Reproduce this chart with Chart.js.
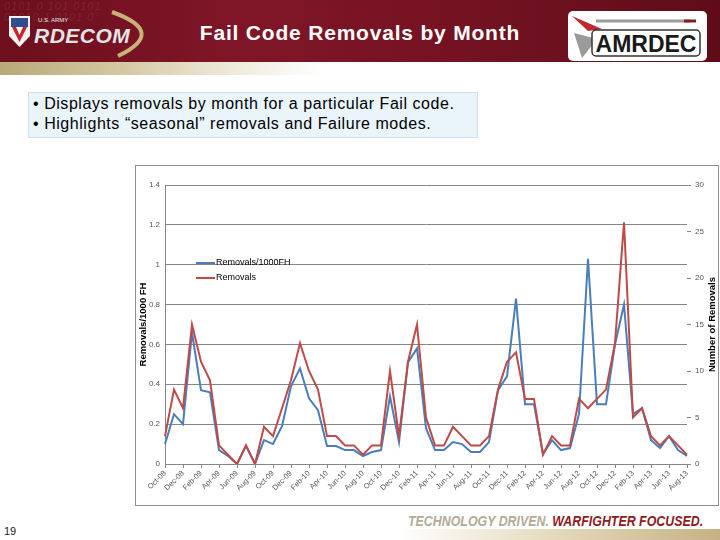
<!DOCTYPE html>
<html>
<head>
<meta charset="utf-8">
<script src="https://cdn.jsdelivr.net/npm/chart.js@4.4.1/dist/chart.umd.min.js"></script>
<style>
  html, body { margin: 0; padding: 0; }
  body { width: 720px; height: 540px; position: relative; overflow: hidden; background: #fff;
         font-family: "Liberation Sans", Arial, sans-serif; }
  #hdr { position: absolute; left: 0; top: 0; width: 720px; height: 62px;
         background: linear-gradient(90deg, #6e0f1e 0%, #7f1627 35%, #741222 65%, #5f0c18 100%); }
  #stripe { position: absolute; left: 0; top: 62px; width: 720px; height: 13px;
            background: linear-gradient(90deg, #b9a878 0%, #d6caa6 18%, #efe9da 32%, #ffffff 45%); }
  #binary { position: absolute; left: 4px; top: 1px; color: rgba(255,255,255,0.10); font-size: 11px;
            line-height: 11px; font-style: italic; letter-spacing: 1px; }
  #title { position: absolute; left: 0; width: 720px; top: 21px; text-align: center; color: #fff;
           font-size: 21px; font-weight: bold; letter-spacing: 0.8px; }
  #bullets { position: absolute; left: 28px; top: 92px; width: 440px; height: 40px; padding: 1px 4px 3px 4px;
             background: #eaf4fb; border: 1px solid #cfe0ee; font-size: 16px; line-height: 20px;
             letter-spacing: 0.55px; color: #000; white-space: nowrap; }
  #frame { position: absolute; left: 135px; top: 165px; width: 582px; height: 339px;
           border: 1px solid #8f8f8f; background: #fff; }
  #page { position: absolute; left: 4px; top: 525px; font-size: 11px; color: #222; }
  #slogan { position: absolute; left: 408px; top: 513px; font-size: 14px; font-weight: bold; font-style: italic;
            white-space: nowrap; transform: scaleX(0.885); transform-origin: left top; }
  #slogan .a { color: #b3ab96; }
  #slogan .b { color: #8c1b1f; }
  #goldbar { position: absolute; left: 400px; top: 529px; width: 320px; height: 11px;
             background: linear-gradient(90deg, rgba(255,255,255,0) 0%, #e6dcc0 45%, #c5b283 100%); }
</style>
</head>
<body>
<div id="hdr"></div>
<div id="binary">0101 0 101 0101<br>01010 1 0101 0</div>
<svg style="position:absolute;left:0;top:0" width="720" height="62">
  <path d="M112 12 Q 168 32 118 56" fill="none" stroke="#c9b27a" stroke-width="4"/>
  <path d="M9 16 L30 16 L30 36 L19.5 47 L9 36 Z" fill="#f2f2f2"/>
  <path d="M11 18 L28 18 L28 27 L11 27 Z" fill="#2d4f8e"/>
  <path d="M12 27 L19.5 42 L27 27 L23 27 L19.5 35 L16 27 Z" fill="#c8232c"/>
  <text x="38" y="22" font-size="6" fill="#e8e8e8" font-family="Liberation Sans">U.S. ARMY</text>
  <text x="34" y="43" font-size="21" font-weight="bold" font-style="italic" fill="#e4e4e4"
        font-family="Liberation Sans" letter-spacing="0.5">RDECOM</text>
  <rect x="568" y="11" width="139" height="50" rx="5" fill="#fff"/>
  <line x1="596" y1="21" x2="690" y2="21" stroke="#9c9c9c" stroke-width="3"/>
  <line x1="684" y1="21" x2="696" y2="21" stroke="#8a1a1f" stroke-width="3"/>
  <path d="M572 16 L602 29 L588 31 Z" fill="#c0292e"/>
  <path d="M574 33 L597 39 L582 58 Z" fill="#9a9a9a"/>
  <rect x="592" y="30" width="108" height="26" rx="4" fill="#fff" stroke="#333" stroke-width="1.5"/>
  <text x="646" y="52" font-size="23" font-weight="bold" fill="#1a1a1a" text-anchor="middle"
        font-family="Liberation Sans">AMRDEC</text>
</svg>
<div id="title">Fail Code Removals by Month</div>
<div id="stripe"></div>
<div id="bullets">• Displays removals by month for a particular Fail code.<br>• Highlights “seasonal” removals and Failure modes.</div>
<div id="frame"><canvas id="chart" width="582" height="339"></canvas></div>
<div id="page">19</div>
<div id="goldbar"></div>
<div id="slogan"><span class="a">TECHNOLOGY DRIVEN.</span> <span class="b">WARFIGHTER FOCUSED.</span></div>

<script>
// months Oct-08 .. Aug-13
const months = [
  "Oct-08", "Nov-08", "Dec-08", "Jan-09", "Feb-09", "Mar-09", "Apr-09", "May-09", "Jun-09", "Jul-09",
  "Aug-09", "Sep-09", "Oct-09", "Nov-09", "Dec-09", "Jan-10", "Feb-10", "Mar-10", "Apr-10", "May-10",
  "Jun-10", "Jul-10", "Aug-10", "Sep-10", "Oct-10", "Nov-10", "Dec-10", "Jan-11", "Feb-11", "Mar-11",
  "Apr-11", "May-11", "Jun-11", "Jul-11", "Aug-11", "Sep-11", "Oct-11", "Nov-11", "Dec-11", "Jan-12",
  "Feb-12", "Mar-12", "Apr-12", "May-12", "Jun-12", "Jul-12", "Aug-12", "Sep-12", "Oct-12", "Nov-12",
  "Dec-12", "Jan-13", "Feb-13", "Mar-13", "Apr-13", "May-13", "Jun-13", "Jul-13", "Aug-13",
];

const removalsPer1000FH = [
  0.10, 0.25, 0.20, 0.66, 0.37, 0.36, 0.07, 0.04, 0.00, 0.09,
  0.00, 0.12, 0.10, 0.19, 0.39, 0.48, 0.33, 0.27, 0.09, 0.09,
  0.07, 0.07, 0.04, 0.06, 0.07, 0.34, 0.11, 0.51, 0.58, 0.18,
  0.07, 0.07, 0.11, 0.10, 0.06, 0.06, 0.11, 0.37, 0.44, 0.83,
  0.30, 0.30, 0.05, 0.12, 0.07, 0.08, 0.25, 1.03, 0.30, 0.30,
  0.60, 0.80, 0.25, 0.28, 0.12, 0.08, 0.14, 0.07, 0.04,
];

const removals = [
  3, 8, 6, 15, 11, 9, 2, 1, 0, 2,
  0, 4, 3, 6, 9, 13, 10, 8, 3, 3,
  2, 2, 1, 2, 2, 10, 3, 11, 15, 5,
  2, 2, 4, 3, 2, 2, 3, 8, 11, 12,
  7, 7, 1, 3, 2, 2, 7, 6, 7, 8,
  13, 26, 5, 6, 3, 2, 3, 2, 1,
];

const leftAxisTitle = "Removals/1000 FH";
const rightAxisTitle = "Number of Removals";

const gridGray = "#868686";
const tickFont = { family: "Liberation Sans", size: 8 };

// legend inside the plot + both axis titles (rotated, reading upwards)
const overlayText = {
  id: "overlayText",
  afterDraw(chart) {
    const ctx = chart.ctx;
    const area = chart.chartArea;
    ctx.save();
    chart.data.datasets.forEach((ds, i) => {
      const y = area.top + 78 + i * 15;
      const x = area.left + 31;
      ctx.strokeStyle = ds.borderColor;
      ctx.lineWidth = 2;
      ctx.beginPath();
      ctx.moveTo(x, y);
      ctx.lineTo(x + 19, y);
      ctx.stroke();
      ctx.fillStyle = "#000";
      ctx.font = "9px 'Liberation Sans'";
      ctx.textBaseline = "middle";
      ctx.textAlign = "left";
      ctx.fillText(ds.label, x + 20, y);
    });
    const midY = (area.top + area.bottom) / 2;
    ctx.font = "bold 9.5px 'Liberation Sans'";
    ctx.fillStyle = "#000";
    ctx.textAlign = "center";
    ctx.textBaseline = "middle";
    [[area.left - 22, leftAxisTitle], [area.right + 25, rightAxisTitle]].forEach(([x, t]) => {
      ctx.save();
      ctx.translate(x, midY);
      ctx.rotate(-Math.PI / 2);
      ctx.fillText(t, 0, 0);
      ctx.restore();
    });
    ctx.restore();
  },
};

const canvas = document.getElementById("chart");
try {
  new Chart(canvas, {
    type: "line",
    data: {
      labels: months,
      datasets: [
        {
          label: "Removals/1000FH",
          data: removalsPer1000FH,
          yAxisID: "y",
          borderColor: "#4a7ebb",
          backgroundColor: "#4a7ebb",
          borderWidth: 2,
          pointRadius: 0,
          tension: 0,
          order: 1,
        },
        {
          label: "Removals",
          data: removals,
          yAxisID: "y1",
          borderColor: "#be4b48",
          backgroundColor: "#be4b48",
          borderWidth: 2,
          pointRadius: 0,
          tension: 0,
          order: 0,
        },
      ],
    },
    options: {
      responsive: false,
      animation: false,
      layout: { padding: { top: 19, left: 0, right: 0, bottom: 0 } },
      plugins: {
        legend: { display: false },
        tooltip: { enabled: false },
      },
      scales: {
        x: {
          offset: false,
          grid: { drawOnChartArea: false, drawTicks: true, tickLength: 4, color: gridGray },
          border: { display: true, color: gridGray },
          ticks: {
            autoSkip: false,
            maxRotation: 45,
            minRotation: 45,
            padding: 1,
            color: "#555",
            font: { family: "Liberation Sans", size: 7.5 },
            callback: function (value, index) {
              return index % 2 === 0 ? this.getLabelForValue(value) : null;
            },
          },
          afterFit: (s) => { s.height = 41; s.paddingLeft = 0; s.paddingRight = 0; },
        },
        y: {
          position: "left",
          min: 0,
          max: 1.4,
          grid: { color: gridGray, drawTicks: false },
          border: { display: true, color: gridGray },
          ticks: {
            stepSize: 0.2,
            padding: 5,
            color: "#555",
            font: tickFont,
            callback: (v) => String(Math.round(v * 10) / 10),
          },
          afterFit: (s) => { s.width = 29; },
        },
        y1: {
          position: "right",
          min: 0,
          max: 30,
          grid: { drawOnChartArea: false, drawTicks: true, tickLength: 4, color: gridGray },
          border: { display: false },
          ticks: { stepSize: 5, padding: 4, color: "#555", font: tickFont },
          afterFit: (s) => { s.width = 31; },
        },
      },
    },
    plugins: [overlayText],
  });
} catch (error) {
  console.error(`Error creating chart: ${error}`);
}
</script>
</body>
</html>
